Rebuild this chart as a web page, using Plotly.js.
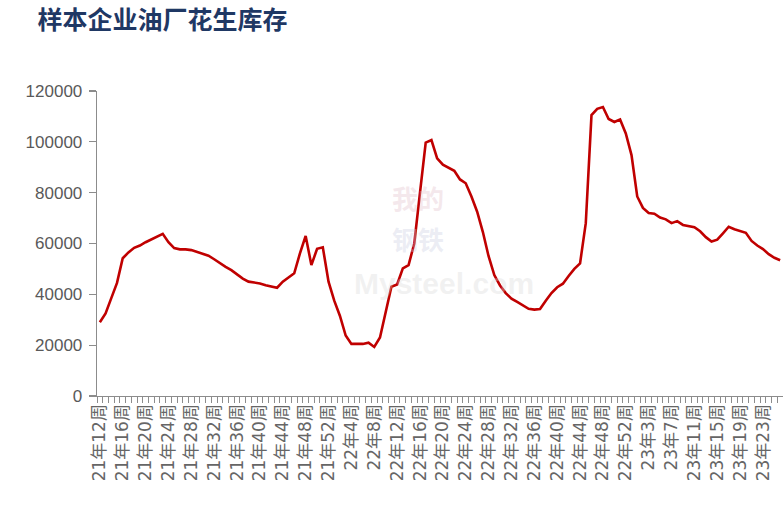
<!DOCTYPE html>
<html>
<head>
<meta charset="utf-8">
<script src="https://cdn.plot.ly/plotly-3.0.1.min.js"></script>
<style>html,body{margin:0;padding:0;background:#fff;}#chart{width:783px;height:505px;}</style>
</head>
<body>
<div id="chart"></div>
<script>
// Week categories: 21年12周 .. 21年52周, 22年1周 .. 22年53周, 23年1周 .. 23年26周
const weeks21 = [12,13,14,15,16,17,18,19,20,21,22,23,24,25,26,27,28,29,30,31,32,33,34,35,36,37,38,39,40,41,42,43,44,45,46,47,48,49,50,51,52];
const weeks22 = [1,2,3,4,5,6,7,8,9,10,11,12,13,14,15,16,17,18,19,20,21,22,23,24,25,26,27,28,29,30,31,32,33,34,35,36,37,38,39,40,41,42,43,44,45,46,47,48,49,50,51,52,53];
const weeks23 = [1,2,3,4,5,6,7,8,9,10,11,12,13,14,15,16,17,18,19,20,21,22,23,24,25,26];
const categories = [
  ...weeks21.map(w => '21年' + w + '周'),
  ...weeks22.map(w => '22年' + w + '周'),
  ...weeks23.map(w => '23年' + w + '周')
];

// 花生库存 (吨)
const inventory = [
  29000, 32500, 38500, 44500, 54200, 56500, 58300, 59200, 60500, 61500,
  62700, 63800, 60500, 58200, 57700, 57700, 57400, 56600, 56000, 55200,
  53800, 52200, 50800, 49500, 47800, 46200, 45000, 44600, 44300, 43600,
  43000, 42600, 45000, 46800, 48300, 56100, 63000, 51500, 57900, 58500,
  45000, 37500, 31500, 23800, 20500, 20500, 20500, 21000, 19300, 23000,
  33500, 43000, 43900, 50200, 51500, 60000, 80000, 99700, 100700, 93500,
  91000, 89800, 88600, 85200, 83700, 78500, 72500, 64500, 55000, 47600,
  43500, 40500, 38300, 37000, 35500, 34300, 34000, 34200, 37500, 40500,
  42800, 44200, 47200, 50000, 52200, 68000, 110500, 113000, 113700, 109000,
  107800, 108800, 103300, 94800, 78500, 74000, 72000, 71700, 70200, 69500,
  68000, 68800, 67300, 66800, 66400, 64800, 62500, 60800, 61500, 64000,
  66600, 65600, 65000, 64200, 61000, 59200, 57800, 55800, 54400, 53400
];

const labelStep = 4;
const xIndex = categories.map((_, i) => i);
const tickIdx = xIndex.filter(i => i % labelStep === 0);
const tickText = tickIdx.map(i => categories[i]);
const boundaries = categories.map((_, i) => i - 0.5).concat([categories.length - 0.5]);
const yTicks = [0, 20000, 40000, 60000, 80000, 100000, 120000];

const trace = {
  x: xIndex,
  y: inventory,
  text: categories,
  type: 'scatter',
  mode: 'lines',
  line: {color: '#C00000', width: 2.6},
  hovertemplate: '%{text}: %{y}<extra></extra>'
};

const layout = {
  width: 783,
  height: 505,
  paper_bgcolor: '#ffffff',
  plot_bgcolor: '#ffffff',
  margin: {l: 97, r: 0, t: 91, b: 109},
  showlegend: false,
  title: {
    text: '<b>样本企业油厂花生库存</b>',
    font: {family: 'Noto Sans CJK SC, sans-serif', size: 25, color: '#1F3864'},
    xref: 'container', yref: 'container',
    x: 0.048, xanchor: 'left',
    y: 0.96, yanchor: 'middle'
  },
  xaxis: {
    range: [-0.5, categories.length - 0.5],
    tickmode: 'array',
    tickvals: tickIdx,
    ticktext: tickText,
    tickangle: -90,
    ticks: '',
    showgrid: false,
    zeroline: false,
    showline: true,
    linecolor: '#8C8C8C',
    linewidth: 1.3,
    tickfont: {family: 'DejaVu Sans, Noto Sans CJK SC, sans-serif', size: 17, color: '#666666'},
    minor: {tickmode: 'array', tickvals: boundaries, ticks: 'outside', ticklen: 6, tickcolor: '#8C8C8C', tickwidth: 1, showgrid: false},
    fixedrange: true
  },
  yaxis: {
    range: [0, 120000],
    tickmode: 'array',
    tickvals: yTicks,
    ticktext: yTicks.map(v => String(v)),
    ticks: 'outside',
    ticklen: 7,
    tickcolor: '#8C8C8C',
    tickwidth: 1.3,
    showgrid: false,
    zeroline: false,
    showline: true,
    linecolor: '#8C8C8C',
    linewidth: 1.3,
    tickfont: {family: 'Liberation Sans, sans-serif', size: 17, color: '#595959'},
    ticklabelstandoff: 3,
    fixedrange: true
  },
  annotations: [
    {text: '<b>我的</b>', xref: 'paper', yref: 'paper', x: 0.468, y: 0.652,
     showarrow: false, font: {family: 'Noto Sans CJK SC, sans-serif', size: 26, color: 'rgba(225,190,200,0.35)'}},
    {text: '<b>钢铁</b>', xref: 'paper', yref: 'paper', x: 0.468, y: 0.515,
     showarrow: false, font: {family: 'Noto Sans CJK SC, sans-serif', size: 26, color: 'rgba(200,205,225,0.35)'}},
    {text: '<b>Mysteel.com</b>', xref: 'paper', yref: 'paper', x: 0.506, y: 0.37,
     showarrow: false, font: {family: 'Liberation Sans, sans-serif', size: 30, color: 'rgba(215,215,215,0.35)'}}
  ]
};

Plotly.newPlot('chart', [trace], layout, {displayModeBar: false, staticPlot: true});
</script>
</body>
</html>
